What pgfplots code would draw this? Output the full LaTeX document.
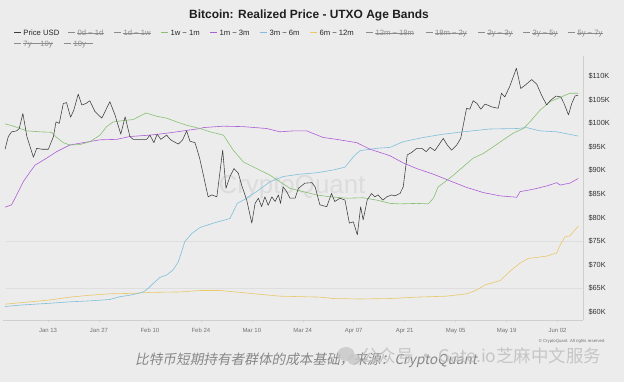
\documentclass[border=0pt]{standalone}
\usepackage{fontspec}
\setmainfont{Liberation Sans}
\newfontfamily\cjk{Noto Sans CJK SC}
\newfontfamily\cjkslant{Noto Sans CJK SC}[FakeSlant=0.2]
\usepackage{pgfplots}
\pgfplotsset{compat=1.18}
\definecolor{bg}{HTML}{ECECEC}
\definecolor{gridc}{HTML}{DEDEDE}
\definecolor{axc}{HTML}{CFCFCF}
\definecolor{pricec}{HTML}{3C3C3C}
\definecolor{greenc}{HTML}{86C072}
\definecolor{purplec}{HTML}{AD5ED6}
\definecolor{cyanc}{HTML}{7FBFDC}
\definecolor{yellowc}{HTML}{E9C868}
\definecolor{hidc}{HTML}{8C8C8C}
\definecolor{wmc}{HTML}{DCDCDC}
\newcommand{\legent}[4]{% x, y, colour, text
  \draw[#3, line width=0.6] (#1,#2) -- (#1+7,#2);
  \node[anchor=base west, inner sep=0, text=black!85, font=\fontsize{7.7}{8}\selectfont] at (#1+9.3,#2-2.8) {#4};}
\newcommand{\legenth}[3]{% x, y, text (hidden, struck out)
  \draw[hidc, line width=0.6] (#1,#2) -- (#1+7,#2);
  \node[anchor=base west, inner sep=0, text=hidc, font=\fontsize{7.7}{8}\selectfont] (tmp) at (#1+9.3,#2-2.8) {#3};
  \draw[hidc, line width=0.5] (tmp.mid west) -- (tmp.mid east);}
\begin{document}
\begin{tikzpicture}
\begin{scope}[x=1bp,y=1bp]
\fill[bg] (0,0) rectangle (624,382);
\useasboundingbox (0,0) rectangle (624,382);
\node[text=wmc, font=\fontsize{26}{26}\selectfont] at (292,195) {CryptoQuant};
\end{scope}
\begin{axis}[
  at={(3bp,62bp)}, anchor=south west, scale only axis,
  width=580bp, height=264bp,
  xmin=-0.36, xmax=159, ymin=58.24, ymax=114.3,
  axis x line*=bottom, axis y line*=right,
  axis line style={draw=axc, line width=0.6bp, -},
  xtick={12,26,40,54,68,82,96,110,124,138,152},
  xticklabels={Jan 13,Jan 27,Feb 10,Feb 24,Mar 10,Mar 24,Apr 07,Apr 21,May 05,May 19,Jun 02},
  x tick label style={font=\fontsize{6}{6}\selectfont, text=black!55, yshift=-2.5bp},
  ytick={60,65,70,75,80,85,90,95,100,105,110},
  yticklabels={\$60K,\$65K,\$70K,\$75K,\$80K,\$85K,\$90K,\$95K,\$100K,\$105K,\$110K},
  y tick label style={font=\fontsize{7.4}{7.4}\selectfont, text=black!80},
  tick align=outside, major tick length=2bp,
  xtick style={draw=axc, line width=0.5bp},
  ytick style={draw=none},
  every axis plot/.append style={line width=0.6bp, mark=none, line join=round},
]
\pgfplotsinvokeforeach{65,75}{\draw[gridc, line width=0.5bp] (axis cs:0.5,#1) -- (axis cs:159,#1);}
% 6m ~ 12m
\addplot[yellowc] coordinates {
(0.2,61.6)(4.3,61.9)(12.6,62.5)(18.0,63.1)(23.5,63.5)(29.0,63.8)(35.4,63.9)(40.0,64.1)
(48.3,64.2)(53.8,64.5)(59.3,64.5)(64.8,64.1)(70.2,63.7)(75.7,63.3)(81.2,63.2)(86.7,63.1)
(90.4,62.8)(97.7,62.7)(106.0,62.8)(113.3,63.1)(121.5,63.3)(127.0,63.8)(129.8,64.6)(132.1,65.7)
(136.2,66.6)(139.4,68.9)(141.7,70.3)(143.9,71.3)(149.0,71.8)(151.8,72.5)(152.5,73.8)(154.0,75.9)
(155.4,76.1)(157.7,78.2)};
% 3m ~ 6m
\addplot[cyanc] coordinates {
(0.2,61.1)(4.3,61.4)(12.6,61.8)(18.0,62.1)(23.5,62.3)(29.0,62.6)(31.8,63.2)(34.5,63.5)
(37.3,64.0)(38.2,64.2)(39.6,65.0)(40.9,66.0)(42.8,67.3)(44.6,67.8)(46.4,68.9)(47.8,70.6)
(48.7,72.7)(49.6,74.9)(51.5,76.6)(53.8,77.9)(57.4,78.8)(62.0,79.8)(64.0,83.0)(65.7,83.7)
(69.3,85.5)(73.0,87.6)(76.6,88.7)(81.2,89.2)(85.8,89.5)(90.4,90.1)(93.6,90.7)(95.9,92.9)
(97.7,94.2)(102.3,94.7)(106.0,94.9)(108.7,95.8)(109.6,96.1)(115.1,97.0)(120.6,97.7)(126.1,98.2)
(133.4,98.8)(140.8,98.9)(143.5,99.1)(147.2,98.4)(151.8,98.2)(157.7,97.3)};
% 1m ~ 3m
\addplot[purplec] coordinates {
(0.2,82.2)(2.0,82.7)(3.4,84.8)(5.2,87.6)(7.1,89.7)(8.4,91.1)(11.6,92.6)(14.4,94.0)
(18.0,95.4)(21.7,95.9)(26.3,96.5)(30.9,96.6)(34.5,97.2)(40.0,97.5)(44.6,97.9)(49.2,98.4)
(53.8,98.9)(54.7,99.1)(60.2,99.4)(65.7,99.3)(72.1,98.9)(75.7,98.2)(79.4,98.4)(83.1,98.4)
(87.6,97.0)(91.3,96.6)(96.8,95.9)(100.5,94.5)(104.1,93.6)(106.0,93.1)(109.6,91.6)(113.3,90.4)
(117.9,89.2)(122.4,87.8)(127.0,86.4)(131.6,85.3)(136.2,84.6)(140.8,84.3)(141.7,85.5)(145.3,86.0)
(149.0,86.7)(151.8,87.4)(152.7,86.9)(155.4,87.3)(157.7,88.3)};
% 1w ~ 1m
\addplot[greenc] coordinates {
(0.2,99.9)(2.5,99.4)(6.2,98.4)(9.8,98.2)(13.0,98.1)(14.4,97.0)(16.2,95.9)(18.0,95.4)
(20.8,95.5)(23.5,96.1)(26.3,97.5)(28.1,99.3)(29.9,100.3)(32.7,100.6)(35.4,100.8)(38.9,102.2)
(41.9,101.5)(44.6,101.1)(47.4,100.3)(50.1,99.6)(53.8,98.9)(56.5,98.2)(60.2,97.5)(62.9,94.3)
(65.7,91.8)(69.3,90.4)(73.0,89.0)(75.7,87.6)(78.5,86.2)(82.1,85.5)(85.8,84.8)(89.5,84.4)
(94.1,84.1)(98.6,84.2)(102.3,83.7)(106.0,83.0)(108.7,82.9)(113.3,83.0)(116.5,82.9)(117.9,84.1)
(119.2,86.5)(121.1,87.6)(123.4,89.0)(126.1,90.8)(128.8,92.6)(131.6,93.6)(134.3,95.0)(137.1,96.5)
(139.8,97.9)(142.6,98.9)(144.4,100.3)(147.2,102.8)(149.9,104.6)(152.7,105.5)(155.4,106.4)(157.7,106.4)};
% Price USD
\addplot[pricec, line width=0.55bp] coordinates {
(0.2,94.5)(1.1,97.2)(2.0,98.2)(3.4,98.4)(4.1,98.9)(5.1,102.1)(6.2,97.2)(7.1,95.0)
(8.0,92.8)(8.9,94.7)(10.3,94.5)(12.1,94.5)(13.5,97.2)(14.2,100.3)(15.1,100.0)(16.2,104.2)
(17.1,104.4)(18.2,101.3)(19.1,102.8)(20.3,106.2)(21.3,103.9)(22.4,104.2)(23.5,104.8)(24.9,102.5)
(26.8,101.1)(29.0,104.6)(30.4,101.8)(32.0,97.7)(33.2,101.4)(34.5,97.2)(35.4,96.6)(36.8,96.6)
(39.1,96.6)(40.0,97.5)(41.1,95.9)(42.0,97.7)(43.0,96.6)(44.6,97.5)(45.7,96.5)(47.8,95.6)
(49.0,96.5)(50.1,98.4)(51.0,96.2)(52.4,95.9)(53.7,92.5)(56.0,84.4)(57.0,84.8)(58.4,84.4)
(60.0,94.3)(60.9,86.2)(62.0,88.7)(63.1,90.4)(64.3,89.4)(65.2,86.9)(66.6,83.7)(68.0,78.8)
(68.9,83.0)(69.8,84.1)(70.7,82.3)(71.6,84.4)(72.5,82.6)(73.5,84.4)(74.4,83.4)(75.3,84.8)
(75.9,83.0)(76.6,86.5)(77.6,85.5)(78.5,84.1)(79.9,84.1)(80.8,86.2)(82.6,87.3)(84.5,87.4)
(85.4,86.5)(86.7,82.7)(88.6,82.3)(89.9,85.1)(90.8,83.4)(92.2,84.1)(93.6,83.7)(94.8,78.8)
(95.9,79.1)(97.0,76.3)(97.9,82.3)(98.6,79.5)(99.7,83.7)(100.9,85.1)(101.8,84.4)(102.7,84.8)
(104.0,83.7)(105.1,84.4)(106.4,84.8)(107.3,84.6)(108.7,85.1)(109.6,86.5)(110.7,93.3)(111.9,93.8)
(113.3,94.7)(114.7,94.7)(115.9,94.0)(117.0,94.9)(118.3,94.2)(120.6,96.8)(121.7,95.4)(122.9,94.3)
(124.3,95.4)(125.4,96.8)(127.0,103.2)(127.9,103.0)(128.8,104.8)(129.9,104.2)(130.9,103.0)(132.1,104.1)
(133.9,103.5)(135.7,103.2)(136.6,106.4)(137.5,105.6)(138.9,107.9)(140.7,111.7)(141.9,107.4)(143.1,108.1)
(144.9,109.3)(146.3,108.3)(147.6,106.0)(149.0,103.9)(150.1,104.9)(151.6,105.8)(152.9,105.6)(153.8,104.2)
(155.0,101.8)(155.9,104.2)(156.8,105.8)(157.7,106.0)};
\end{axis}
\begin{scope}[x=1bp,y=1bp]
\node[font=\bfseries\fontsize{12}{12}\selectfont, text=black!88] at (309,367) {Bitcoin: Realized Price - UTXO Age Bands};
\legent{14}{349.3}{pricec}{Price USD}
\legenth{68}{349.3}{0d \textasciitilde\ 1d}
\legenth{114}{349.3}{1d \textasciitilde\ 1w}
\legent{161}{349.3}{greenc}{1w \textasciitilde\ 1m}
\legent{210}{349.3}{purplec}{1m \textasciitilde\ 3m}
\legent{260}{349.3}{cyanc}{3m \textasciitilde\ 6m}
\legent{310}{349.3}{yellowc}{6m \textasciitilde\ 12m}
\legenth{366}{349.3}{12m \textasciitilde\ 18m}
\legenth{425.5}{349.3}{18m \textasciitilde\ 2y}
\legenth{478}{349.3}{2y \textasciitilde\ 3y}
\legenth{523}{349.3}{3y \textasciitilde\ 5y}
\legenth{568}{349.3}{5y \textasciitilde\ 7y}
\legenth{14}{338.7}{7y \textasciitilde\ 10y}
\legenth{64}{338.7}{10y \textasciitilde}
\node[anchor=east, text=black!55, font=\fontsize{4.3}{5}\selectfont] at (608,41) {© CryptoQuant. All rights reserved};
\node[anchor=west, inner sep=0, text=black!47, font=\cjkslant\fontsize{13.7}{14}\selectfont] at (135,22) {比特币短期持有者群体的成本基础，来源：CryptoQuant};
\fill[black!22, opacity=0.8] (346,28) ellipse (8.5 and 7);
\fill[black!22, opacity=0.8] (354,22.5) ellipse (6.5 and 5.5);
\node[anchor=west, inner sep=0, text=black!25, opacity=0.85, font=\cjk\fontsize{17.5}{18}\selectfont] at (361,26) {公众号 · Gate.io芝麻中文服务};
\end{scope}
\end{tikzpicture}
\end{document}
